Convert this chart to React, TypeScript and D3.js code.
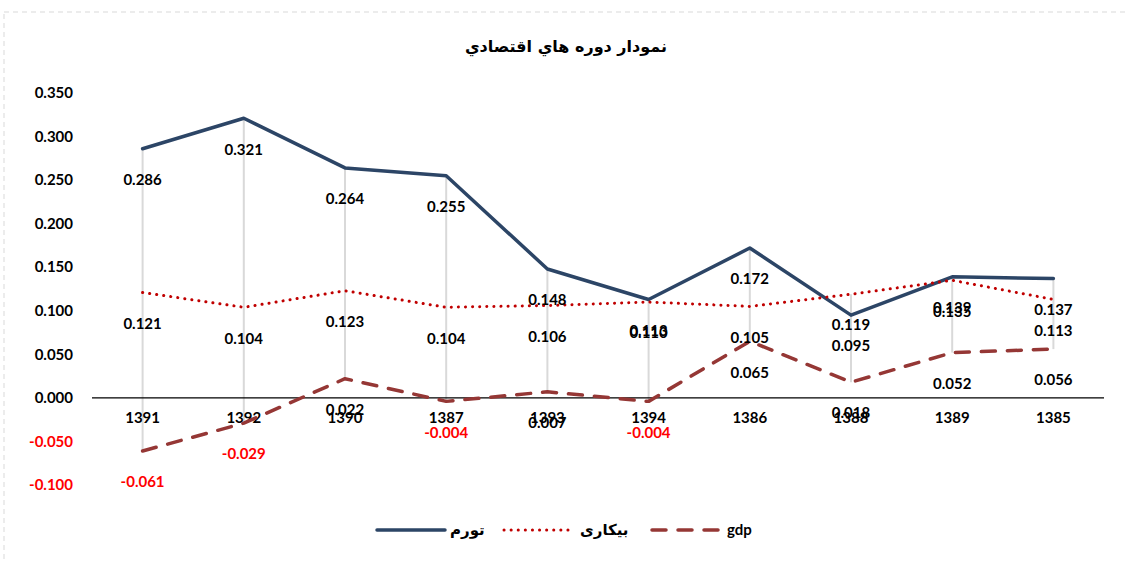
import React from 'react';
import * as d3 from 'd3';

const categories = ['1391', '1392', '1390', '1387', '1393', '1394', '1386', '1388', '1389', '1385'];
const inflation = [0.286, 0.321, 0.264, 0.255, 0.148, 0.113, 0.172, 0.095, 0.139, 0.137];
const unemployment = [0.121, 0.104, 0.123, 0.104, 0.106, 0.110, 0.105, 0.119, 0.135, 0.113];
const gdp = [-0.061, -0.029, 0.022, -0.004, 0.007, -0.004, 0.065, 0.018, 0.052, 0.056];
const yTicks = [0.35, 0.3, 0.25, 0.2, 0.15, 0.1, 0.05, 0, -0.05, -0.1];

const seriesList = [
  { name: 'تورم', values: inflation, color: '#2c4566', width: 3.5, dash: null },
  { name: 'بیکاری', values: unemployment, color: '#c00000', width: 3, dash: '0.1 7' },
  { name: 'gdp', values: gdp, color: '#953735', width: 3.5, dash: '14 12' },
];

const W = 1126;
const H = 563;
const font = 'Lato, "DejaVu Sans", sans-serif';

// excel style: plain hyphen for negatives
const fmt = d3.formatLocale({ decimal: '.', thousands: ',', grouping: [3], currency: ['', ''], minus: '-' }).format('.3f');

export default function App() {
  const x = d3.scaleBand<string>().domain(categories).range([92, 1104]);
  const y = d3.scaleLinear().domain([-0.1, 0.35]).range([485, 93]);
  const cx = (c: string) => (x(c) ?? 0) + x.bandwidth() / 2;

  const line = (vals: number[]) =>
    d3.line<number>().x((_, i) => cx(categories[i])).y(d => y(d))(vals) ?? '';

  const legendItems = [
    { s: seriesList[0], x0: 377, x1: 445, tx: 450 },
    { s: seriesList[1], x0: 504, x1: 570, tx: 580 },
    { s: seriesList[2], x0: 652, x1: 720, tx: 727 },
  ];

  return (
    <svg width={W} height={H} style={{ position: 'absolute', left: 0, top: 0, background: '#fff' }}
      fontFamily={font}>
      <rect x={4} y={12} width={W + 10} height={H + 10} fill="#fff" stroke="#d9d9d9"
        strokeWidth={1} strokeDasharray="5 4" />
      <text x={566} y={52} textAnchor="middle" fontSize={16} fontWeight="bold"
        fontFamily='"DejaVu Sans", sans-serif' direction="rtl">نمودار دوره هاي اقتصادي</text>

      {yTicks.map(t => (
        <text key={t} x={73} y={y(t)} dy="0.35em" textAnchor="end" fontSize={15} fontWeight="bold"
          fill={t < 0 ? '#ff0000' : '#000'}>{fmt(t)}</text>
      ))}

      {categories.map((c, i) => {
        const vals = seriesList.map(s => s.values[i]);
        return (
          <line key={c} x1={cx(c)} x2={cx(c)} y1={y(d3.max(vals)!)} y2={y(d3.min(vals)!)}
            stroke="#d9d9d9" strokeWidth={2} />
        );
      })}

      <line x1={92} x2={1104} y1={y(0)} y2={y(0)} stroke="#000" strokeWidth={1.2} />

      {categories.map(c => (
        <text key={c} x={cx(c)} y={y(0) + 25} textAnchor="middle" fontSize={15} fontWeight="bold">{c}</text>
      ))}

      {seriesList.map(s => (
        <path key={s.name} d={line(s.values)} fill="none" stroke={s.color} strokeWidth={s.width}
          strokeDasharray={s.dash ?? undefined} strokeLinecap="round" strokeLinejoin="round" />
      ))}

      {seriesList.map(s =>
        s.values.map((v, i) => (
          <text key={s.name + i} x={cx(categories[i])} y={y(v) + 31} dy="0.35em" textAnchor="middle"
            fontSize={15} fontWeight="bold" fill={v < 0 ? '#ff0000' : '#000'}>{fmt(v)}</text>
        ))
      )}

      {legendItems.map(({ s, x0, x1, tx }) => (
        <g key={s.name}>
          <line x1={x0} x2={x1} y1={530} y2={530} stroke={s.color} strokeWidth={s.width}
            strokeDasharray={s.dash ?? undefined} strokeLinecap="round" />
          <text x={tx} y={530} dy="0.35em" fontSize={15} fontWeight="bold">{s.name}</text>
        </g>
      ))}
    </svg>
  );
}
